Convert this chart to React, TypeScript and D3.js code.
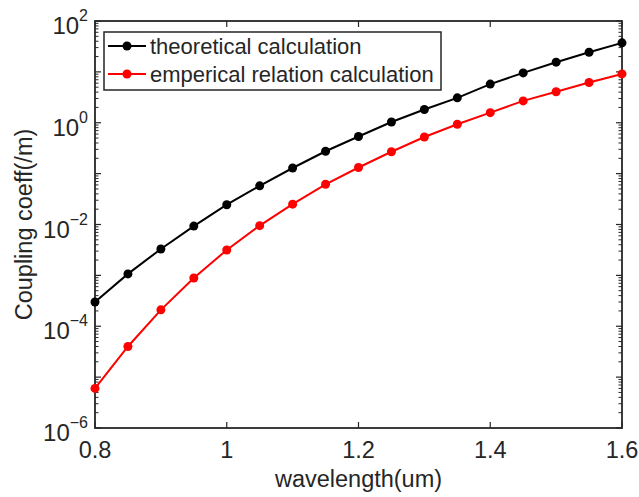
import React from "react";
import * as d3 from "d3";

const wavelengths = [0.8, 0.85, 0.9, 0.95, 1.0, 1.05, 1.1, 1.15, 1.2, 1.25, 1.3, 1.35, 1.4, 1.45, 1.5, 1.55, 1.6];
const theoretical = [3.0e-4, 1.07e-3, 3.3e-3, 9.3e-3, 0.0245, 0.0575, 0.129, 0.275, 0.537, 1.035, 1.82, 3.09, 5.75, 9.55, 15.5, 24.3, 37.2];
const emperical = [6.0e-6, 4.0e-5, 2.1e-4, 8.9e-4, 3.16e-3, 9.5e-3, 0.0251, 0.0617, 0.132, 0.269, 0.525, 0.933, 1.58, 2.69, 4.07, 6.17, 9.12];
const xTicks = [0.8, 1, 1.2, 1.4, 1.6];
const xTickLabels = ["0.8", "1", "1.2", "1.4", "1.6"];
const yExponents = [-6, -4, -2, 0, 2];
const seriesNames = ["theoretical calculation", "emperical relation calculation"];
const seriesColors = ["#000000", "#ff0000"];

const W = 639, H = 497;
const L = 95, R = 622, T = 21, B = 428;
const FONT = "'Liberation Sans', Arial, Helvetica, sans-serif";
const AX = "#262626";

export default function App() {
  const x = d3.scaleLinear().domain([0.8, 1.6]).range([L, R]);
  const y = d3.scaleLog().domain([1e-6, 1e2]).range([B, T]);
  const line = d3.line<number>().x((_, i) => x(wavelengths[i])).y((d) => y(d));
  const series = [theoretical, emperical];

  const minor: number[] = [];
  for (let e = -6; e < 2; e++) for (let m = 2; m <= 9; m++) minor.push(m * Math.pow(10, e));

  return (
    <svg width={W} height={H} style={{ position: "absolute", left: 0, top: 0, background: "#fff" }} fontFamily={FONT}>
      <rect x={0} y={0} width={W} height={H} fill="#fff" />
      {/* minor y ticks */}
      {minor.map((v, i) => (
        <g key={"m" + i} stroke={AX} strokeWidth={1}>
          <line x1={L} x2={L + 3.5} y1={y(v)} y2={y(v)} />
          <line x1={R} x2={R - 3.5} y1={y(v)} y2={y(v)} />
        </g>
      ))}
      {/* major y ticks */}
      {yExponents.concat([-5, -3, -1, 1]).map((e) => (
        <g key={"M" + e} stroke={AX} strokeWidth={1.2}>
          <line x1={L} x2={L + 6} y1={y(Math.pow(10, e))} y2={y(Math.pow(10, e))} />
          <line x1={R} x2={R - 6} y1={y(Math.pow(10, e))} y2={y(Math.pow(10, e))} />
        </g>
      ))}
      {/* x ticks */}
      {xTicks.map((t) => (
        <g key={"x" + t} stroke={AX} strokeWidth={1.2}>
          <line x1={x(t)} x2={x(t)} y1={B} y2={B - 6} />
          <line x1={x(t)} x2={x(t)} y1={T} y2={T + 6} />
        </g>
      ))}
      {/* box */}
      <rect x={L} y={T} width={R - L} height={B - T} fill="none" stroke={AX} strokeWidth={1.8} />
      {/* series */}
      {series.map((s, k) => (
        <g key={"s" + k}>
          <path d={line(s) || ""} fill="none" stroke={seriesColors[k]} strokeWidth={2} />
          {s.map((v, i) => (
            <circle key={i} cx={x(wavelengths[i])} cy={y(v)} r={4.5} fill={seriesColors[k]} />
          ))}
        </g>
      ))}
      {/* x tick labels */}
      {xTicks.map((t, i) => (
        <text key={"xl" + t} x={x(t)} y={B + 30} textAnchor="middle" fontSize={23.5} fill={AX}>
          {xTickLabels[i]}
        </text>
      ))}
      {/* y tick labels */}
      {yExponents.map((e) => (
        <text key={"yl" + e} x={88} y={y(Math.pow(10, e)) + 13} textAnchor="end" fontSize={24} fill={AX}>
          10
          <tspan fontSize={16} dy={-13}>{e < 0 ? "\u2212" + Math.abs(e) : String(e)}</tspan>
        </text>
      ))}
      {/* axis labels */}
      <text x={(L + R) / 2} y={487} textAnchor="middle" fontSize={23.5} fill={AX}>wavelength(um)</text>
      <text transform={`translate(32, ${(T + B) / 2}) rotate(-90)`} textAnchor="middle" fontSize={23.5} fill={AX}>
        Coupling coeff(/m)
      </text>
      {/* legend */}
      <rect x={104} y={32} width={337} height={58} fill="#fff" stroke={AX} strokeWidth={1.5} />
      {seriesNames.map((n, k) => (
        <g key={"lg" + k}>
          <line x1={108} x2={146} y1={46 + k * 28} y2={46 + k * 28} stroke={seriesColors[k]} strokeWidth={2} />
          <circle cx={127} cy={46 + k * 28} r={4.5} fill={seriesColors[k]} />
          <text x={150} y={46 + k * 28 + 7.5} fontSize={22} fill={AX}>{n}</text>
        </g>
      ))}
    </svg>
  );
}
